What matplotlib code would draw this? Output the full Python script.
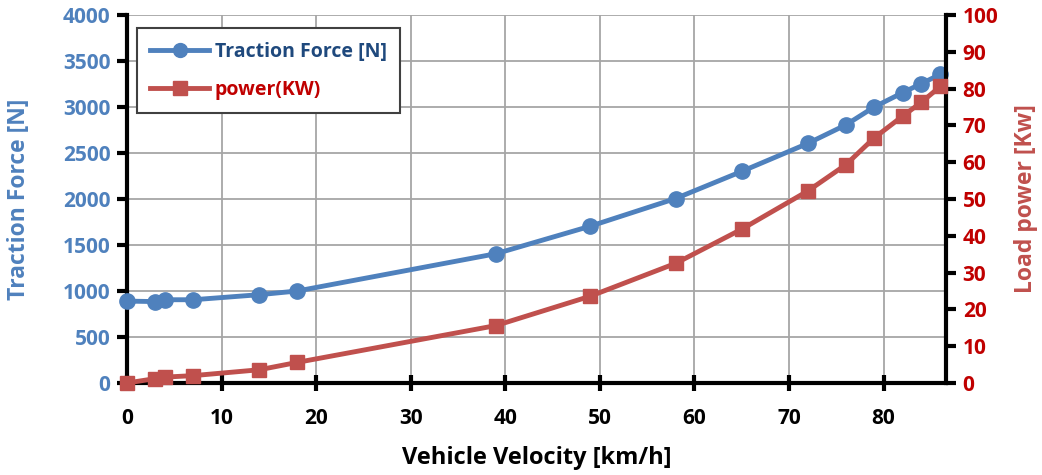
import matplotlib.pyplot as plt
from matplotlib.lines import Line2D

# data
speed = [0, 3, 4, 7, 14, 18, 39, 49, 58, 65, 72, 76, 79, 82, 84, 86]
force = [890, 885, 905, 905, 960, 1000, 1405, 1705, 2005, 2300, 2605, 2805, 3000, 3155, 3255, 3355]
power = [0, 1.2, 1.6, 2.0, 3.6, 5.6, 15.6, 23.6, 32.5, 41.8, 52.2, 59.3, 66.6, 72.5, 76.3, 80.6]

blue = "#4F81BD"
red = "#C0504D"
dark_red = "#C00000"
font = "Open Sans"

plt.rcParams["font.family"] = [font, "DejaVu Sans"]
plt.rcParams["font.weight"] = "bold"

fig = plt.figure(figsize=(10.42, 4.75), dpi=100)
ax = fig.add_axes([0.1219, 0.1937, 0.786, 0.7747])
ax2 = ax.twinx()

ax.plot(speed, force, color=blue, lw=3.5, marker="o", ms=11, clip_on=False, zorder=3)
ax2.plot(speed, power, color=red, lw=3.5, marker="s", ms=10.5, clip_on=False, zorder=3)

ax.set_xlim(0, 86.6)
ax.set_ylim(0, 4000)
ax2.set_ylim(0, 100)
ax.set_xticks(range(0, 90, 10))
ax.set_yticks(range(0, 4001, 500))
ax2.set_yticks(range(0, 101, 10))

ax.grid(True, color="#A6A6A6", lw=1.3)
ax.set_axisbelow(True)

for a in (ax, ax2):
    for s in a.spines.values():
        s.set_linewidth(3)
        s.set_color("black")
    a.spines["top"].set_visible(False)
ax2.spines["left"].set_visible(False)
ax2.spines["bottom"].set_visible(False)
ax.spines["right"].set_visible(False)

ax.tick_params(axis="x", direction="inout", length=12, width=3, labelsize=15, pad=12)
ax.tick_params(axis="y", direction="out", length=7, width=3, labelsize=15,
               labelcolor=blue, pad=5)
ax2.tick_params(axis="y", direction="out", length=7, width=3, labelsize=15,
                labelcolor=dark_red, pad=5)

ax.set_xlabel("Vehicle Velocity [km/h]", fontsize=17, fontweight="bold", labelpad=12)
ax.set_ylabel("Traction Force [N]", fontsize=16.5, fontweight="bold", color=blue)
ax2.set_ylabel("Load power [Kw]", fontsize=16.5, fontweight="bold", color=red)
ax.yaxis.set_label_coords(-0.117, 0.5)
ax2.yaxis.set_label_coords(1.083, 0.5)

handles = [Line2D([], [], color=blue, lw=3.5, marker="o", ms=10),
           Line2D([], [], color=red, lw=3.5, marker="s", ms=10)]
leg = ax2.legend(handles, ["Traction Force [N]", "power(KW)"], loc="upper left",
                 bbox_to_anchor=(0.0, 0.99), fancybox=False, framealpha=1,
                 edgecolor="#404040", handlelength=3.0, handletextpad=0.3,
                 labelspacing=0.9, borderpad=0.7, prop={"weight": "bold", "size": 14})
leg.get_frame().set_linewidth(1.5)
leg.get_texts()[0].set_color("#1F497D")
leg.get_texts()[1].set_color(dark_red)
leg.set_zorder(5)

fig.savefig("out.png", dpi=100)
